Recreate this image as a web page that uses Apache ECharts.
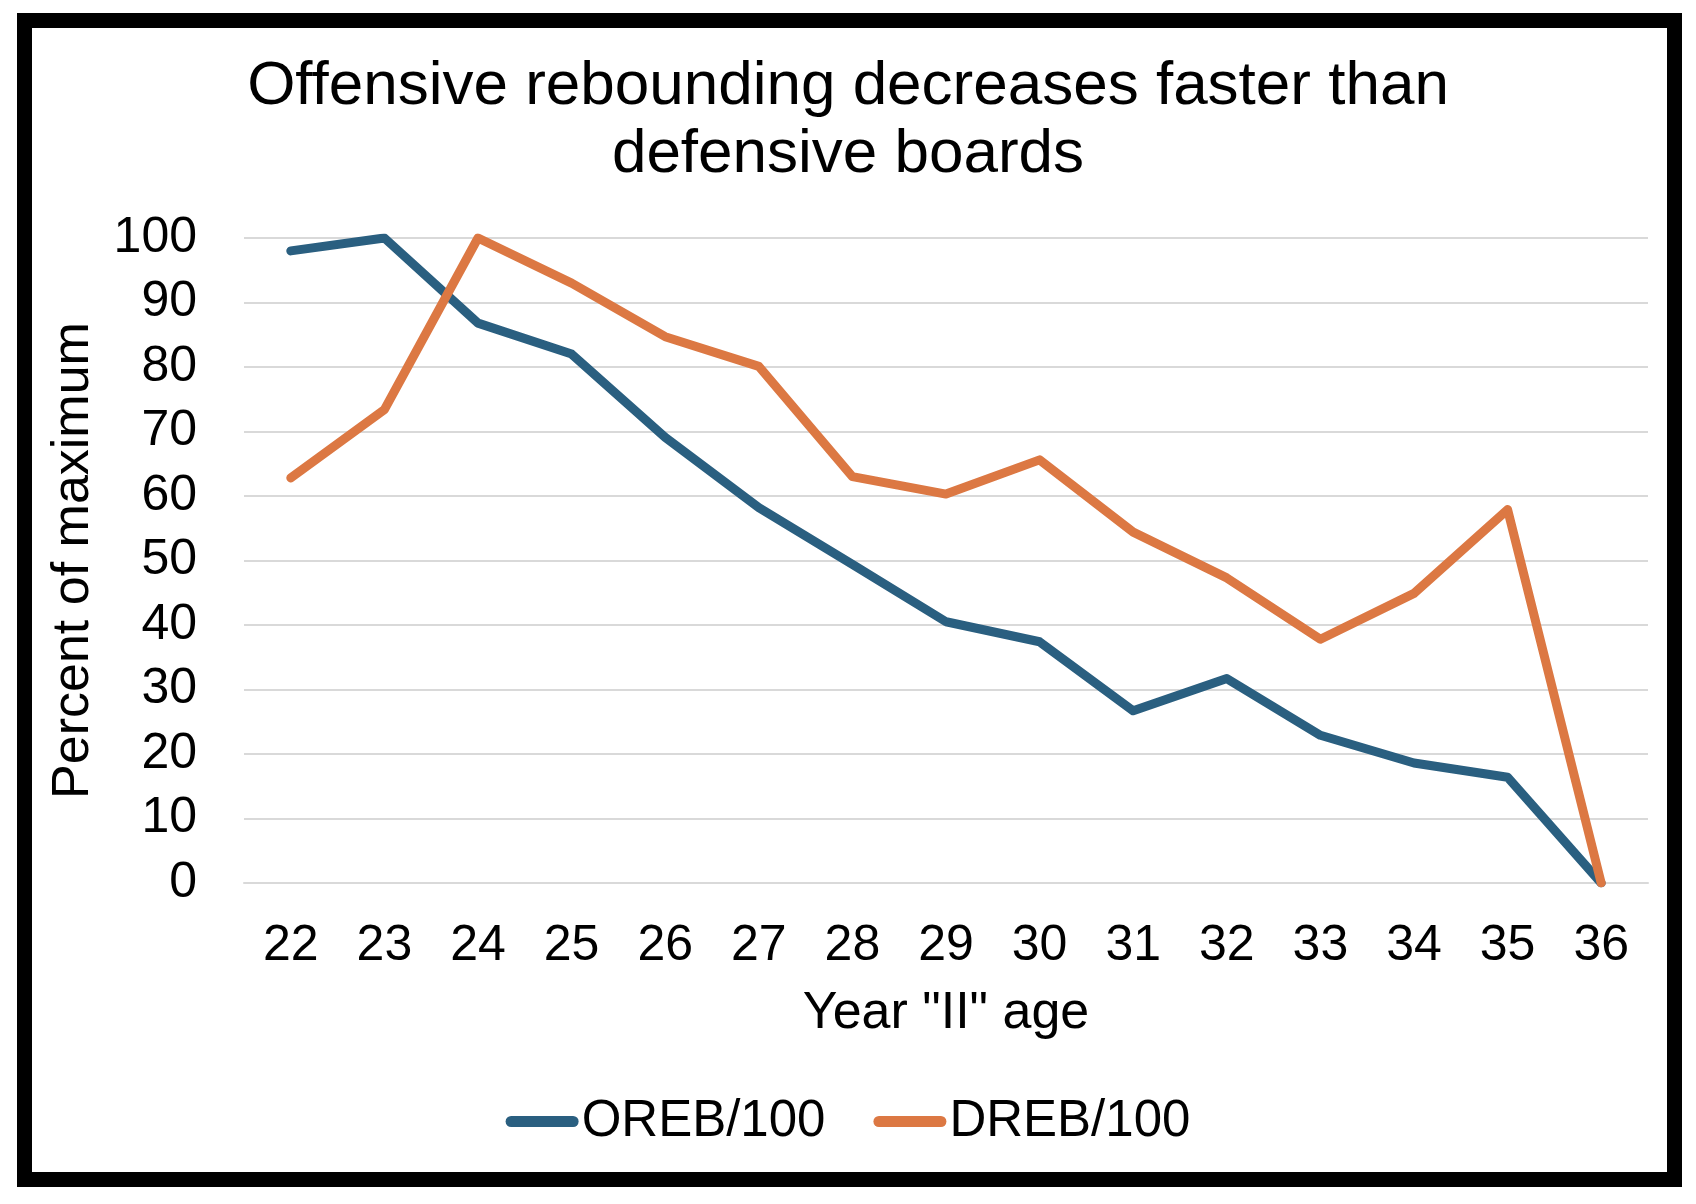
<!DOCTYPE html>
<html>
<head>
<meta charset="utf-8">
<script src="https://cdn.jsdelivr.net/npm/echarts@6/dist/echarts.min.js"></script>
<style>
html,body{margin:0;padding:0;background:#fff;}
#chart{width:1696px;height:1204px;}
</style>
</head>
<body>
<div id="chart"></div>
<script>
const titleText = 'Offensive rebounding decreases faster than\ndefensive boards';
const ages = ['22','23','24','25','26','27','28','29','30','31','32','33','34','35','36'];
const orebPer100 = [98.0, 100, 86.8, 82.0, 69.1, 58.2, 49.4, 40.5, 37.4, 26.7, 31.7, 22.9, 18.6, 16.4, 0];
const drebPer100 = [62.8, 73.4, 100, 93.0, 84.7, 80.1, 63.0, 60.3, 65.6, 54.4, 47.3, 37.8, 44.9, 57.9, 0];
const seriesNames = ['OREB/100', 'DREB/100'];
const xAxisName = 'Year "II" age';
const yAxisName = 'Percent of maximum';

const FONT = '"Liberation Sans", Arial, Helvetica, sans-serif';
const BLUE = '#2A5F80';
const ORANGE = '#DC7843';
const legendIcon = 'path://M5.5,0H67.5A5.5,5.5,0,0,1,67.5,11H5.5A5.5,5.5,0,0,1,5.5,0Z';

const chart = echarts.init(document.getElementById('chart'), null, {renderer: 'canvas'});
chart.setOption({
  animation: false,
  backgroundColor: '#ffffff',
  color: [BLUE, ORANGE],
  textStyle: {fontFamily: FONT, color: '#000'},
  graphic: [{
    type: 'rect',
    shape: {x: 24.5, y: 20.5, width: 1650, height: 1159},
    style: {fill: 'none', stroke: '#000', lineWidth: 15},
    z: 100
  }],
  title: {
    text: titleText,
    left: 'center',
    top: 48,
    textStyle: {fontFamily: FONT, fontSize: 62, fontWeight: 'normal', color: '#000', lineHeight: 68}
  },
  legend: {
    data: seriesNames.map(n => ({name: n, icon: legendIcon})),
    left: 'center',
    top: 1091,
    itemWidth: 73,
    itemHeight: 11,
    itemGap: 48,
    textStyle: {fontFamily: FONT, fontSize: 51, color: '#000', padding: [0, 0, 0, -2]}
  },
  grid: {left: 244, right: 48, top: 238, bottom: 321, containLabel: false},
  xAxis: {
    type: 'category',
    data: ages,
    boundaryGap: true,
    name: xAxisName,
    nameLocation: 'middle',
    nameGap: 105,
    nameTextStyle: {fontFamily: FONT, fontSize: 52, color: '#000'},
    axisLine: {show: true, lineStyle: {color: '#d9d9d9', width: 2}},
    axisTick: {show: false},
    axisLabel: {fontFamily: FONT, fontSize: 50, color: '#000', margin: 38, interval: 0}
  },
  yAxis: {
    type: 'value',
    min: 0,
    max: 100,
    interval: 10,
    name: yAxisName,
    nameLocation: 'middle',
    nameGap: 144,
    nameTextStyle: {fontFamily: FONT, fontSize: 52, color: '#000'},
    axisLine: {show: false},
    axisTick: {show: false},
    axisLabel: {fontFamily: FONT, fontSize: 50, color: '#000', margin: 47},
    splitLine: {show: true, lineStyle: {color: '#d9d9d9', width: 2}}
  },
  series: [
    {
      name: seriesNames[0],
      type: 'line',
      data: orebPer100,
      symbol: 'none',
      showSymbol: false,
      itemStyle: {color: BLUE},
      lineStyle: {color: BLUE, width: 9, cap: 'round', join: 'round'},
      z: 3
    },
    {
      name: seriesNames[1],
      type: 'line',
      data: drebPer100,
      symbol: 'none',
      showSymbol: false,
      itemStyle: {color: ORANGE},
      lineStyle: {color: ORANGE, width: 9, cap: 'round', join: 'round'},
      z: 4
    }
  ]
});
</script>
</body>
</html>
